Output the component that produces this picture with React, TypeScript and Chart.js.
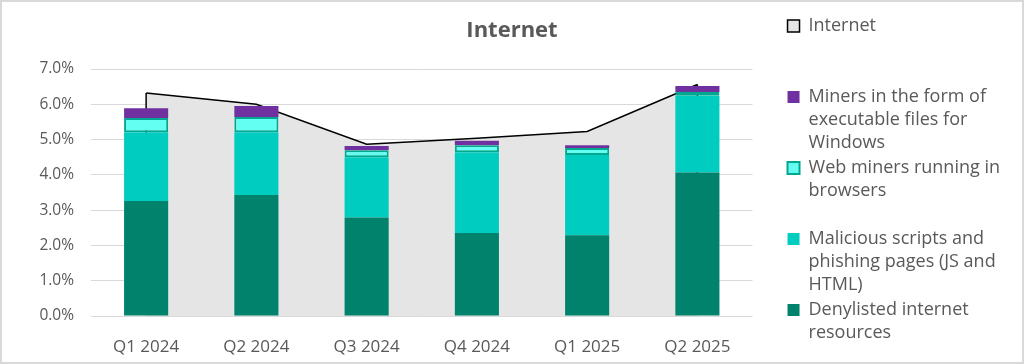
import React, { useEffect, useRef } from "react";
import { Chart, registerables } from "chart.js";

Chart.register(...registerables);

const categories = ["Q1 2024", "Q2 2024", "Q3 2024", "Q4 2024", "Q1 2025", "Q2 2025"];
const denylisted = [3.26, 3.43, 2.79, 2.35, 2.29, 4.07];
const malicious = [1.95, 1.78, 1.71, 2.29, 2.27, 2.17];
const webMiners = [0.4, 0.43, 0.2, 0.2, 0.2, 0.11];
const exeMiners = [0.28, 0.31, 0.12, 0.13, 0.08, 0.17];
const internet = [6.32, 6.0, 4.87, 5.04, 5.23, 6.56];

const titleText = "Internet";
const labelInternet = ["Internet", "", ""];
const labelExe = ["Miners in the form of", "executable files for", "Windows"];
const labelWeb = ["Web miners running in", "browsers", ""];
const labelMal = ["Malicious scripts and", "phishing pages (JS and", "HTML)"];
const labelDeny = ["Denylisted internet", "resources"];
const yTicks = [0, 1, 2, 3, 4, 5, 6, 7];

const FONT = "'Open Sans', 'Noto Sans', sans-serif";
const TEXT = "#595959";
const LINE_INDEX = 4;

const areaEdges = {
  id: "areaEdges",
  afterDatasetDraw(chart: any, args: any) {
    if (args.index !== LINE_INDEX) return;
    const pts = args.meta.data;
    if (!pts || !pts.length) return;
    const ctx = chart.ctx;
    const y0 = chart.scales.y.getPixelForValue(0) - 3;
    ctx.save();
    ctx.strokeStyle = "#000";
    ctx.lineWidth = 1.5;
    for (const p of [pts[0], pts[pts.length - 1]]) {
      ctx.beginPath();
      ctx.moveTo(p.x, p.y);
      ctx.lineTo(p.x, y0);
      ctx.stroke();
    }
    ctx.restore();
  },
};

export default function App() {
  const ref = useRef<HTMLCanvasElement | null>(null);
  useEffect(() => {
    if (!ref.current) return;
    const chart = new Chart(ref.current, {
      type: "bar",
      data: {
        labels: categories,
        datasets: [
          {
            label: labelDeny as any,
            data: denylisted,
            backgroundColor: "#00826D",
            borderWidth: 0,
            order: 1,
          },
          {
            label: labelMal as any,
            data: malicious,
            backgroundColor: "#00CCBF",
            borderWidth: 0,
            order: 1,
          },
          {
            label: labelWeb as any,
            data: webMiners,
            backgroundColor: "#62FFF2",
            borderColor: "#00A88F",
            borderWidth: 2,
            borderSkipped: false,
            order: 1,
          },
          {
            label: labelExe as any,
            data: exeMiners,
            backgroundColor: "#7030A0",
            borderWidth: 0,
            order: 1,
          },
          {
            type: "line",
            label: labelInternet as any,
            data: internet,
            borderColor: "#000000",
            backgroundColor: "#E5E5E5",
            borderWidth: 1.5,
            fill: "origin",
            pointRadius: 0,
            tension: 0,
            stack: "line",
            order: 10,
          } as any,
        ],
      },
      options: {
        responsive: false,
        animation: false,
        events: [],
        layout: { padding: { left: 12, right: 12, top: 0, bottom: 0 } },
        datasets: {
          bar: { barPercentage: 0.4, categoryPercentage: 1.0 },
        },
        scales: {
          x: {
            stacked: true,
            grid: { display: false },
            border: { display: false },
            ticks: {
              color: TEXT,
              font: { family: FONT, size: 17 },
              padding: 13,
              maxRotation: 0,
            },
            afterFit: (s: any) => {
              s.height = 46;
            },
          },
          y: {
            stacked: true,
            min: 0,
            max: 7,
            grid: { color: "#D9D9D9", lineWidth: 1, drawTicks: false },
            border: { display: false },
            afterBuildTicks: (s: any) => {
              s.ticks = yTicks.map((v) => ({ value: v }));
            },
            ticks: {
              color: TEXT,
              font: { family: FONT, size: 15.5 },
              padding: 17,
              callback: (v: any) => Number(v).toFixed(1) + "%",
            },
            afterFit: (s: any) => {
              s.width = 77;
            },
          },
          y2: {
            type: "linear",
            position: "right",
            display: false,
            afterFit: (s: any) => {
              s.width = 33;
            },
          },
        },
        plugins: {
          title: {
            display: true,
            text: titleText,
            color: TEXT,
            font: { family: FONT, size: 22, weight: "bold" },
            padding: { top: 16, bottom: 24.6 },
          },
          legend: {
            display: true,
            position: "right",
            align: "center",
            fullSize: true,
            reverse: true,
            labels: {
              color: TEXT,
              font: { family: FONT, size: 18, lineHeight: "23px" },
              boxWidth: 12,
              boxHeight: 12,
              padding: 2,
            },
          },
          tooltip: { enabled: false },
        },
      } as any,
      plugins: [areaEdges],
    });
    return () => chart.destroy();
  }, []);

  return (
    <div
      style={{
        position: "absolute",
        left: 0,
        top: 0,
        width: 1024,
        height: 364,
        boxSizing: "border-box",
        border: "2px solid #D9D9D9",
        background: "#fff",
      }}
    >
      <canvas ref={ref} width={1020} height={360} style={{ display: "block" }} />
    </div>
  );
}
